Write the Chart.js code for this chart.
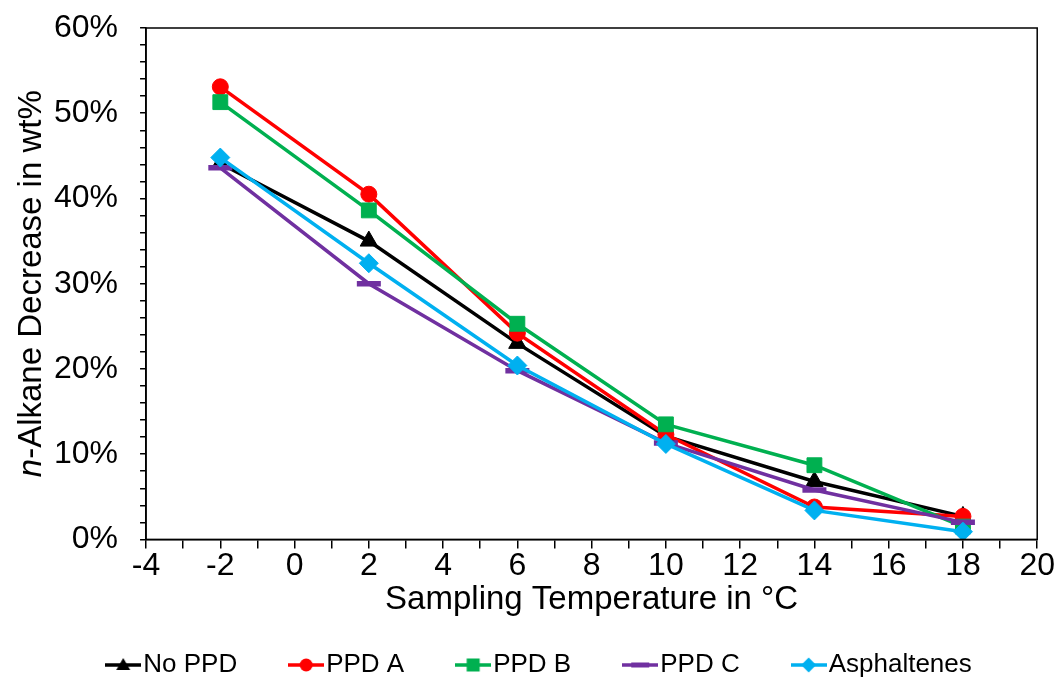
<!DOCTYPE html>
<html>
<head>
<meta charset="utf-8">
<script src="https://cdn.jsdelivr.net/npm/chart.js@4"></script>
<style>
  html, body { margin: 0; padding: 0; background: #fff; }
  #wrap { width: 1057px; height: 682px; }
</style>
</head>
<body>
<div id="wrap"><canvas id="chart"></canvas></div>
<script>
const temps = [-2, 2, 6, 10, 14, 18];
const noPPD = [44.1, 35.0, 23.0, 12.1, 6.8, 2.7];
const ppdA = [53.1, 40.5, 24.2, 12.3, 3.8, 2.7];
const ppdB = [51.3, 38.6, 25.3, 13.5, 8.7, 1.5];
const ppdC = [43.6, 30.0, 19.8, 11.3, 5.8, 2.0];
const asph = [44.8, 32.4, 20.4, 11.2, 3.4, 0.9];

const FONT = "'Liberation Sans', Arial, sans-serif";

const series = [
  { label: 'No PPD', data: noPPD, color: '#000000', style: 'triangle', r: 10 },
  { label: 'PPD A', data: ppdA, color: '#FF0000', style: 'circle', r: 8 },
  { label: 'PPD B', data: ppdB, color: '#00B050', style: 'rect', r: 10.5 },
  { label: 'PPD C', data: ppdC, color: '#7030A0', style: 'line', r: 12 },
  { label: 'Asphaltenes', data: asph, color: '#00B0F0', style: 'rectRot', r: 9.5 }
];

// legend swatch: short line with the marker in the middle
function swatch(s){
  const c = document.createElement('canvas');
  c.width = 36; c.height = 18;
  const g = c.getContext('2d');
  g.strokeStyle = s.color; g.fillStyle = s.color; g.lineWidth = 3.5;
  g.beginPath(); g.moveTo(0, 9); g.lineTo(36, 9); g.stroke();
  const cx = 18, cy = 9;
  g.beginPath();
  if(s.style === 'triangle'){ g.moveTo(cx, cy-7); g.lineTo(cx+7, cy+5); g.lineTo(cx-7, cy+5); g.closePath(); g.fill(); }
  else if(s.style === 'circle'){ g.arc(cx, cy, 6.5, 0, Math.PI*2); g.fill(); }
  else if(s.style === 'rect'){ g.fillRect(cx-6.5, cy-6.5, 13, 13); }
  else if(s.style === 'rectRot'){ g.moveTo(cx, cy-7.5); g.lineTo(cx+7.5, cy); g.lineTo(cx, cy+7.5); g.lineTo(cx-7.5, cy); g.closePath(); g.fill(); }
  else if(s.style === 'line'){ g.fillRect(cx-9, cy-2.5, 18, 5); }
  return c;
}

const datasets = series.map((s, i) => ({
  label: s.label,
  data: temps.map((t, j) => ({ x: t, y: s.data[j] })),
  borderColor: s.color,
  backgroundColor: s.color,
  borderWidth: 3.5,
  pointStyle: s.style,
  pointRadius: s.r,
  pointBorderWidth: s.style === 'line' ? 5.5 : 1,
  pointBackgroundColor: s.color,
  pointBorderColor: s.color,
  order: series.length - i,
  _swatch: swatch(s)
}));

const frame = {
  id: 'frame',
  afterDatasetsDraw(chart){
    const a = chart.chartArea, ctx = chart.ctx;
    ctx.save();
    ctx.strokeStyle = '#000'; ctx.lineWidth = 1.5;
    ctx.strokeRect(a.left, a.top, a.right - a.left, a.bottom - a.top);
    ctx.restore();
  },
  afterDraw(chart){
    // y title with italic "n"
    const a = chart.chartArea, ctx = chart.ctx;
    ctx.save();
    ctx.translate(32, (a.top + a.bottom) / 2);
    ctx.rotate(-Math.PI / 2);
    ctx.fillStyle = '#000';
    ctx.textBaseline = 'middle';
    const size = 33;
    ctx.font = 'italic ' + size + 'px ' + FONT;
    const p1 = 'n';
    const rest = '-Alkane Decrease in wt%';
    const w1 = ctx.measureText(p1).width;
    ctx.font = size + 'px ' + FONT;
    const w2 = ctx.measureText(rest).width;
    let x = -(w1 + w2) / 2;
    ctx.font = 'italic ' + size + 'px ' + FONT;
    ctx.fillText(p1, x, 0);
    ctx.font = size + 'px ' + FONT;
    ctx.fillText(rest, x + w1, 0);
    ctx.restore();
  }
};

new Chart(document.getElementById('chart'), {
  type: 'line',
  data: { datasets },
  plugins: [frame],
  options: {
    responsive: true,
    maintainAspectRatio: false,
    animation: false,
    layout: { padding: { left: 32, right: 1, top: 28, bottom: -6 } },
    plugins: {
      tooltip: { enabled: false },
      legend: {
        position: 'bottom',
        labels: {
          color: '#000',
          font: { family: FONT, size: 26 },
          usePointStyle: true,
          pointStyleWidth: 14,
          padding: 62,
          generateLabels(chart){
            return chart.data.datasets.map((d, i) => ({
              text: d.label,
              pointStyle: d._swatch,
              fillStyle: d.borderColor,
              strokeStyle: d.borderColor,
              fontColor: '#000',
              lineWidth: 0,
              hidden: false,
              datasetIndex: i
            }));
          }
        }
      }
    },
    scales: {
      x: {
        type: 'linear',
        min: -4, max: 20,
        border: { display: true, color: '#000', width: 1.5 },
        grid: { drawOnChartArea: false, drawTicks: true, tickLength: 9, color: '#000', lineWidth: 1.5 },
        ticks: {
          stepSize: 1, autoSkip: false, maxRotation: 0, color: '#000', padding: 2,
          font: { family: FONT, size: 32, lineHeight: 1 },
          callback: v => (v % 2 === 0 ? String(v) : '')
        },
        title: {
          display: true, text: 'Sampling Temperature in °C', color: '#000',
          font: { family: FONT, size: 33 }, padding: { top: -4, bottom: -30 }
        }
      },
      y: {
        min: 0, max: 60,
        border: { display: true, color: '#000', width: 1.5 },
        grid: { drawOnChartArea: false, drawTicks: true, tickLength: 6, color: '#000', lineWidth: 1.5 },
        ticks: {
          stepSize: 2, autoSkip: false, color: '#000', padding: 22,
          font: { family: FONT, size: 32 },
          callback: v => (v % 10 === 0 ? v + '%' : '')
        },
        afterFit(scale){ scale.paddingTop = 0; }
      }
    }
  }
});
</script>
</body>
</html>
